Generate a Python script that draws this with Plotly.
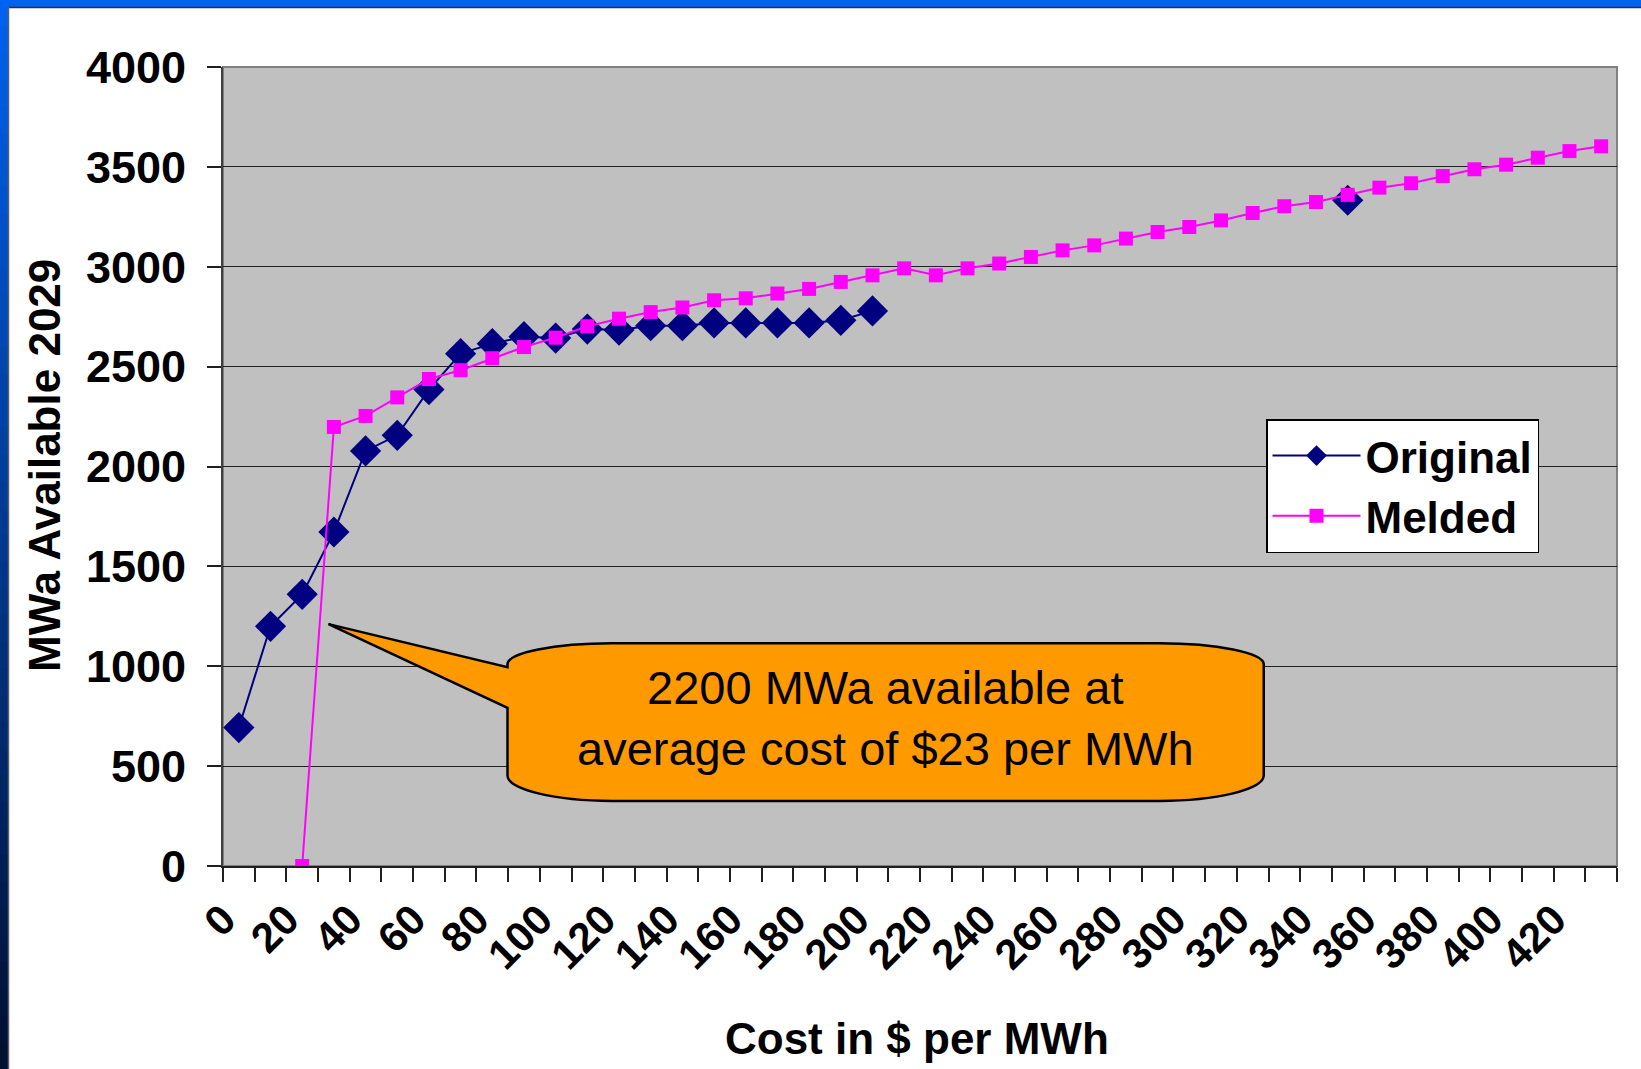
import plotly.graph_objects as go

# ---------------- data ----------------
cost = [0, 10, 20, 30, 40, 50, 60, 70, 80, 90,
        100, 110, 120, 130, 140, 150, 160, 170, 180, 190,
        200, 210, 220, 230, 240, 250, 260, 270, 280, 290,
        300, 310, 320, 330, 340, 350, 360, 370, 380, 390,
        400, 410, 420, 430]

original = [693, 1200, 1360, 1672, 2078, 2156, 2385, 2565, 2615, 2650,
            2643, 2688, 2683, 2705, 2705, 2719, 2719, 2719, 2719, 2732,
            2779, None, None, None, None, None, None, None, None, None,
            None, None, None, None, None, 3333, None, None, None, None,
            None, None, None, None]

melded = [None, None, 0, 2198, 2253, 2346, 2438, 2482, 2542, 2598,
          2645, 2702, 2740, 2773, 2796, 2832, 2842, 2866, 2889, 2924,
          2957, 2992, 2957, 2992, 3016, 3049, 3082, 3107, 3141, 3174,
          3199, 3232, 3269, 3303, 3324, 3360, 3396, 3418, 3454, 3488,
          3511, 3546, 3579, 3603]

x_tick_vals = [0, 20, 40, 60, 80, 100, 120, 140, 160, 180, 200,
               220, 240, 260, 280, 300, 320, 340, 360, 380, 400, 420]
x_tick_text = ["0", "20", "40", "60", "80", "100", "120", "140", "160", "180", "200",
               "220", "240", "260", "280", "300", "320", "340", "360", "380", "400", "420"]
y_tick_vals = [0, 500, 1000, 1500, 2000, 2500, 3000, 3500, 4000]

callout_text = "2200 MWa available at<br>average cost of $23 per MWh"

# ---------------- layout constants ----------------
W, H = 1641, 1069
ML, MR, MT, MB = 223, 24, 67, 203
PW, PH = W - ML - MR, H - MT - MB
FONT = "Liberation Sans, Arial, sans-serif"
LABEL_SHIFT = 4.9   # Excel draws the rotated labels slightly left of the category centre


def px2paper_x(px):
    return (px - ML) / PW


def px2paper_y(py):
    return (H - MB - py) / PH


fig = go.Figure()

fig.add_trace(go.Scatter(
    x=cost, y=original, name="Original", mode="lines+markers",
    line=dict(color="#000080", width=2),
    marker=dict(symbol="diamond", size=24, color="#000080"),
))
fig.add_trace(go.Scatter(
    x=cost, y=melded, name="Melded", mode="lines+markers",
    line=dict(color="#FF00FF", width=2),
    marker=dict(symbol="square", size=14, color="#FF00FF"),
))

boundaries = [c - 5 for c in cost] + [cost[-1] + 5]

shapes = []
# callout (orange rounded box with a wedge), in data coordinates
L, R = 84.8, 323.5
yt, ytc, ybc, yb = 1115, 1010, 454, 326
rx = 33.0
k = 0.55
tip_x, tip_y = 28.3, 1211
w_top, w_bot = 995, 792
path = (
    f"M {L},{ytc} "
    f"C {L},{ytc + k*(yt-ytc)} {L + rx*(1-k)},{yt} {L + rx},{yt} "
    f"L {R - rx},{yt} "
    f"C {R - rx*(1-k)},{yt} {R},{ytc + k*(yt-ytc)} {R},{ytc} "
    f"L {R},{ybc} "
    f"C {R},{ybc - k*(ybc-yb)} {R - rx*(1-k)},{yb} {R - rx},{yb} "
    f"L {L + rx},{yb} "
    f"C {L + rx*(1-k)},{yb} {L},{ybc - k*(ybc-yb)} {L},{ybc} "
    f"L {L},{w_bot} L {tip_x},{tip_y} L {L},{w_top} Z"
)
shapes.append(dict(type="path", xref="x", yref="y", path=path,
                   fillcolor="#FF9900", line=dict(color="black", width=2.5),
                   layer="above"))

# plot-area border (grey, Excel style)
shapes.append(dict(type="rect", xref="paper", yref="paper", x0=0, x1=1, y0=0, y1=1,
                   line=dict(color="#808080", width=2), fillcolor="rgba(0,0,0,0)",
                   layer="below"))


# slide frame: blue top band and gradient left band
def lerp(c1, c2, t):
    return "#%02x%02x%02x" % tuple(int(round(a + (b - a) * t)) for a, b in zip(c1, c2))


top_c = (0, 98, 240)
bot_c = (0, 16, 48)
n = 40
for i in range(n):
    y0p = i * H / n
    y1p = (i + 1) * H / n + 1
    shapes.append(dict(type="rect", xref="paper", yref="paper",
                       x0=px2paper_x(0), x1=px2paper_x(8),
                       y0=px2paper_y(min(y1p, H)), y1=px2paper_y(y0p),
                       fillcolor=lerp(top_c, bot_c, (i + 0.5) / n), line=dict(width=0),
                       layer="below"))
shapes.append(dict(type="rect", xref="paper", yref="paper",
                   x0=px2paper_x(0), x1=px2paper_x(W), y0=px2paper_y(7), y1=px2paper_y(0),
                   fillcolor="#0062F0", line=dict(width=0), layer="below"))
shapes.append(dict(type="line", xref="paper", yref="paper",
                   x0=px2paper_x(8), x1=px2paper_x(W), y0=px2paper_y(7.5), y1=px2paper_y(7.5),
                   line=dict(color="#303030", width=1.5), layer="below"))
shapes.append(dict(type="line", xref="paper", yref="paper",
                   x0=px2paper_x(8.5), x1=px2paper_x(8.5), y0=px2paper_y(H), y1=px2paper_y(7),
                   line=dict(color="#606060", width=1.5), layer="below"))

annotations = [
    dict(x=204, y=739, xref="x", yref="y", text=callout_text, showarrow=False,
         xanchor="center", yanchor="middle",
         font=dict(family=FONT, size=47, color="black"), align="center"),
    dict(x=px2paper_x(44), y=px2paper_y(466), xref="paper", yref="paper",
         xanchor="center", yanchor="middle",
         text="MWa Available 2029", textangle=-90, showarrow=False,
         font=dict(family=FONT, size=44, color="black", weight="bold")),
    dict(x=px2paper_x(917), y=px2paper_y(1038), xref="paper", yref="paper",
         xanchor="center", yanchor="middle",
         text="Cost in $ per MWh", showarrow=False,
         font=dict(family=FONT, size=44, color="black", weight="bold")),
]

fig.update_layout(
    width=W, height=H,
    margin=dict(l=ML, r=MR, t=MT, b=MB, autoexpand=False),
    paper_bgcolor="white",
    plot_bgcolor="#C0C0C0",
    font=dict(family=FONT, color="black"),
    showlegend=True,
    legend=dict(
        x=px2paper_x(1266), y=px2paper_y(419), xanchor="left", yanchor="top",
        bgcolor="white", bordercolor="black", borderwidth=1.5,
        font=dict(family=FONT, size=44, color="black", weight="bold"),
        itemwidth=88, tracegroupgap=0,
    ),
    shapes=shapes,
    annotations=annotations,
)

fig.update_xaxes(
    type="linear", range=[-5, 435], showgrid=False, zeroline=False,
    showline=True, linecolor="#202020", linewidth=2,
    tickmode="array", tickvals=[v - LABEL_SHIFT for v in x_tick_vals], ticktext=x_tick_text,
    ticks="", tickangle=-45, ticklabelstandoff=10,
    tickfont=dict(family=FONT, size=42, color="black", weight="bold"),
    minor=dict(tickmode="array", tickvals=boundaries, ticks="outside",
               ticklen=14, tickcolor="#202020", tickwidth=1.5, showgrid=False),
)
fig.update_yaxes(
    range=[0, 4000], tickmode="array", tickvals=y_tick_vals,
    showgrid=True, gridcolor="#202020", gridwidth=1, zeroline=False,
    showline=True, linecolor="#404040", linewidth=2,
    ticks="outside", ticklen=14, tickcolor="#202020", tickwidth=1.5,
    ticklabelstandoff=12,
    tickfont=dict(family=FONT, size=45, color="black", weight="bold"),
)

fig.write_html(
    "out.html",
    config={"displayModeBar": False},
    post_script="document.body.style.margin='0';document.body.style.overflow='hidden';",
)
